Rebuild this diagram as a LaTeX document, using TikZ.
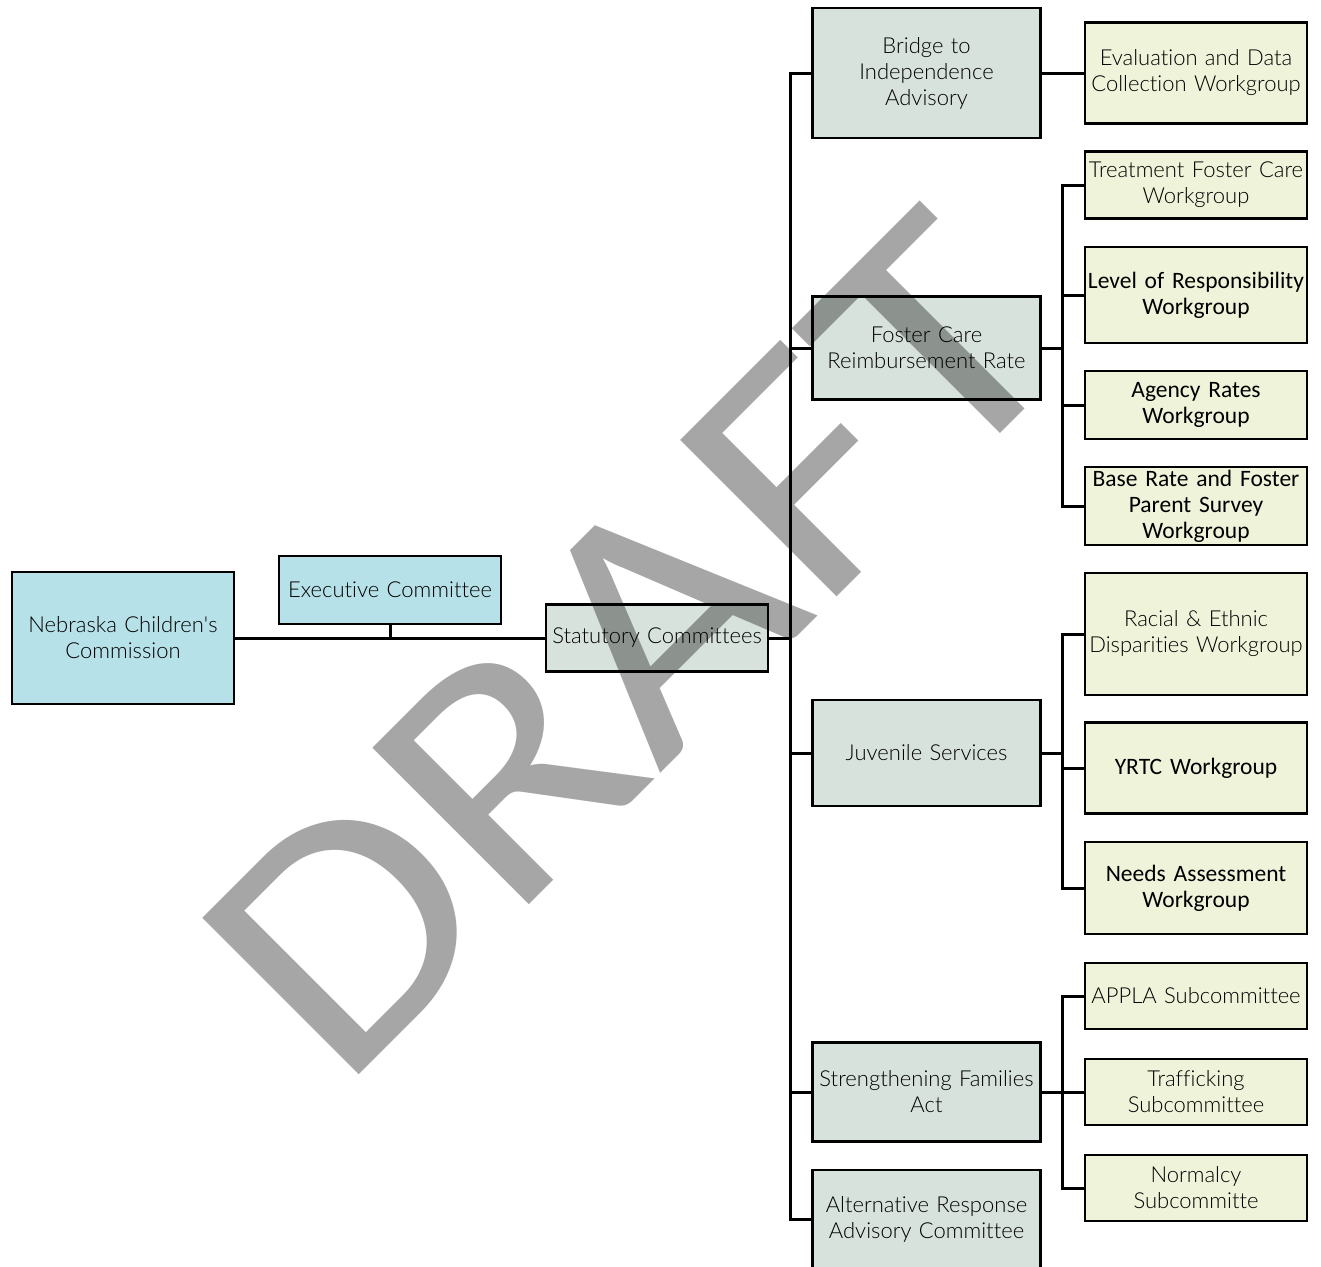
\documentclass[tikz,border=0pt]{standalone}
\usepackage{fontspec}
\setmainfont{Carlito}[Ligatures={NoCommon}]
\newfontfamily\lightfont{Lato Light}[Ligatures={NoCommon}]
\definecolor{topblue}{HTML}{B7E1E8}
\definecolor{midgray}{HTML}{D8E2DC}
\definecolor{leafyel}{HTML}{EFF3D9}
\definecolor{lighttext}{HTML}{000000}
\begin{document}
\begin{tikzpicture}[x=1pt,y=-1pt,
  box/.style={draw=black, line width=2.8pt, inner sep=0pt, align=center,
    font=\lightfont\fontsize{22}{26}\selectfont, text=lighttext},
  bluebox/.style={box, fill=topblue},
  graybox/.style={box, fill=midgray, minimum width=228pt, text width=228pt},
  leafbox/.style={box, fill=leafyel, minimum width=222pt, text width=222pt},
  strong/.style={text=black, font=\rmfamily\fontsize{23.5}{26}\selectfont},
  conn/.style={line width=3pt, line cap=rect}
]
\useasboundingbox (0,0) rectangle (1321,1266);
\fill[white] (0,0) rectangle (1321,1266);

% level 0 / 1
\node[bluebox, minimum width=222pt, minimum height=132pt, text width=222pt] (ncc) at (123,638) {Nebraska Children\textquotesingle s\\Commission};
\node[bluebox, minimum width=222pt, minimum height=68pt, text width=222pt] (exec) at (390,590) {Executive Committee};
\node[box, fill=midgray, minimum width=222pt, minimum height=67pt, text width=222pt] (stat) at (657,638) {Statutory Committees};

% level 2
\node[graybox, minimum height=130pt] (bridge) at (926.5,73) {Bridge to\\Independence\\Advisory};
\node[graybox, minimum height=103pt] (foster) at (926.5,348) {Foster Care\\Reimbursement Rate};
\node[graybox, minimum height=106pt] (juv) at (926.5,753) {Juvenile Services};
\node[graybox, minimum height=99pt] (sfa) at (926.5,1092) {Strengthening Families\\Act};
\node[graybox, minimum height=98pt] (alt) at (926.5,1219) {Alternative Response\\Advisory Committee};

% level 3
\node[leafbox, minimum height=101pt] (eval) at (1196,73) {Evaluation and Data\\Collection Workgroup};
\node[leafbox, minimum height=67pt] (tfc) at (1196,185) {Treatment Foster Care\\Workgroup};
\node[leafbox, strong, minimum height=96pt] (lor) at (1196,295) {Level of Responsibility\\Workgroup};
\node[leafbox, strong, minimum height=68pt] (agency) at (1196,405) {Agency Rates\\Workgroup};
\node[leafbox, strong, minimum height=78pt] (base) at (1196,506) {Base Rate and Foster\\Parent Survey\\Workgroup};
\node[leafbox, minimum height=122pt] (racial) at (1196,634) {Racial \& Ethnic\\Disparities Workgroup};
\node[leafbox, strong, minimum height=91pt] (yrtc) at (1196,768) {YRTC Workgroup};
\node[leafbox, strong, minimum height=92pt] (needs) at (1196,888) {Needs Assessment\\Workgroup};
\node[leafbox, minimum height=66pt] (appla) at (1196,996) {APPLA Subcommittee};
\node[leafbox, minimum height=66pt] (traff) at (1196,1092) {Trafficking\\Subcommittee};
\node[leafbox, minimum height=66pt] (normal) at (1196,1188) {Normalcy\\Subcommitte};

\coordinate (bus) at (790,0);
\coordinate (busb) at (1062,0);

% connectors
\draw[conn] (ncc.east) -- (stat.west);
\draw[conn] (exec.south) -- (exec.south |- ncc.east);
\draw[conn] (stat.east) -- (stat.east -| bus);
\draw[conn] (bridge.west -| bus) -- (alt.west -| bus);
\foreach \n in {bridge,foster,juv,sfa,alt} \draw[conn] (\n.west) -- (\n.west -| bus);
\draw[conn] (bridge.east) -- (eval.west);
\draw[conn] (foster.east) -- (foster.east -| busb);
\draw[conn] (tfc.west -| busb) -- (base.west -| busb);
\foreach \n in {tfc,lor,agency,base} \draw[conn] (\n.west) -- (\n.west -| busb);
\draw[conn] (juv.east) -- (juv.east -| busb);
\draw[conn] (racial.west -| busb) -- (needs.west -| busb);
\foreach \n in {racial,yrtc,needs} \draw[conn] (\n.west) -- (\n.west -| busb);
\draw[conn] (sfa.east) -- (traff.west);
\draw[conn] (appla.west -| busb) -- (normal.west -| busb);
\foreach \n in {appla,normal} \draw[conn] (\n.west) -- (\n.west -| busb);

% watermark
\node[rotate=45, xscale=1.13, anchor=base west, inner sep=0pt, text=black, text opacity=0.35,
  font=\rmfamily\fontsize{345}{345}\selectfont] (wm) at (340,1094) {DRAFT};
\end{tikzpicture}
\end{document}
